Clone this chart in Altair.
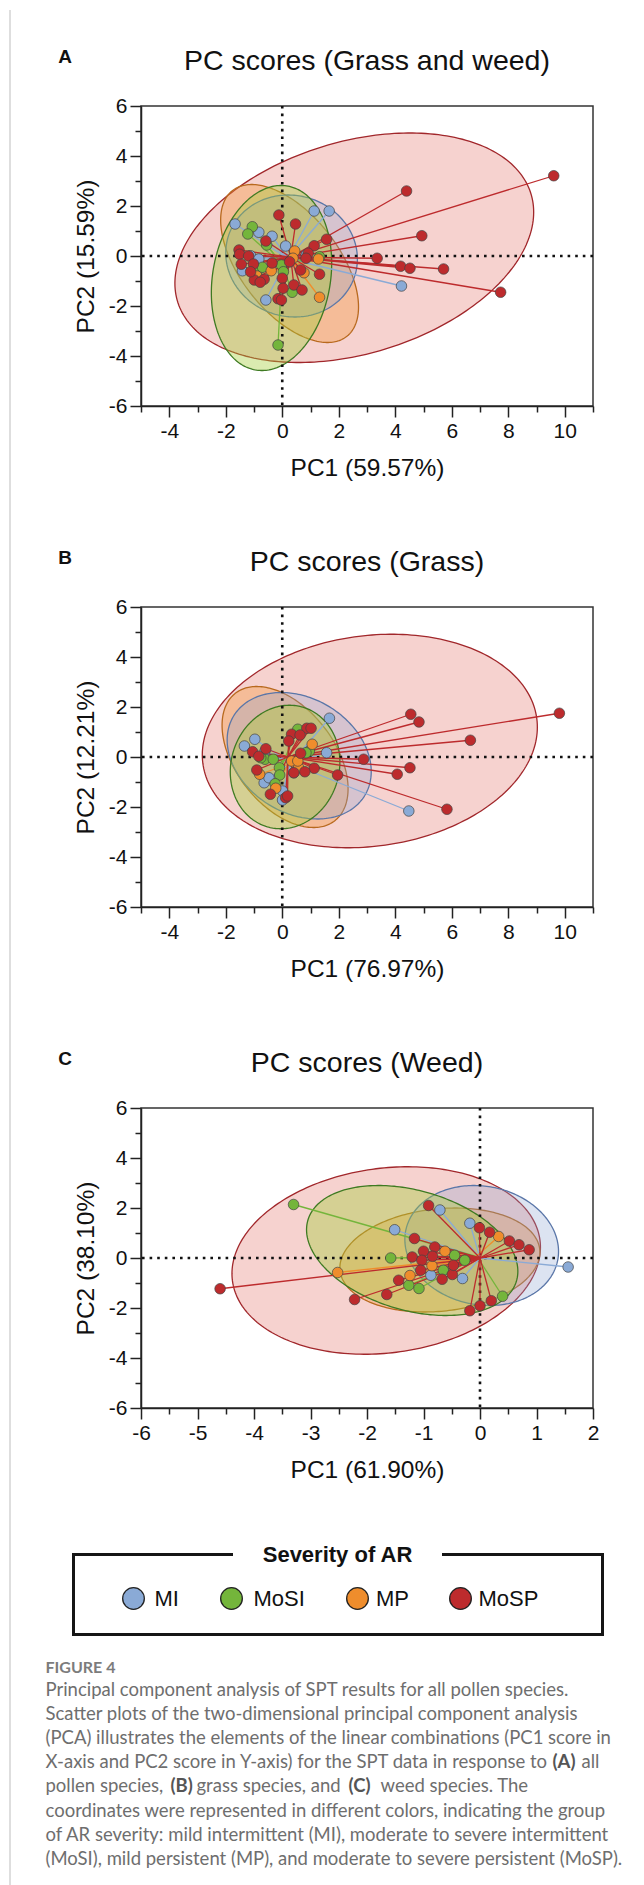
import altair as alt
import numpy as np
import pandas as pd

FONT = "Liberation Sans"
CAP_FONT = "Lato"

GROUPS = ["MI", "MoSI", "MP", "MoSP"]
POINT_COLORS = ["#9db8dd", "#8ec63f", "#f39431", "#de4b3f"]
SPOKE_COLORS = ["#8aaad6", "#74b53b", "#ef8d2c", "#bd2b2d"]
ELL_FILL = {"MI": "#8aa3d0", "MoSI": "#a5cc3a", "MP": "#f39431", "MoSP": "#dd4a3f"}
ELL_OPACITY = {"MI": 0.30, "MoSI": 0.40, "MP": 0.35, "MoSP": 0.25}
ELL_STROKE = {"MI": "#5a76a8", "MoSI": "#3e7a22", "MP": "#b8691e", "MoSP": "#a1272b"}
ELL_ORDER = ["MoSP", "MP", "MI", "MoSI"]

# ---------------- Panel A: Grass and weed ----------------
A_MI_x = [-1.67, -0.83, -0.36, 0.12, 1.13, 1.66, -1.12, -0.83, -1.41, -0.58, 4.22, 0.26, 0.85]
A_MI_y = [1.28, 0.95, 0.79, 0.40, 1.80, 1.80, 0.01, -0.12, -0.59, -1.76, -1.20, -0.23, 0.05]
A_MoSI_x = [-1.06, -1.22, -0.55, -0.03, -0.83, -0.15, 0.35, 1.32, 0.04, -0.70]
A_MoSI_y = [1.17, 0.88, 0.44, -0.36, -0.53, -3.56, -1.45, -0.03, -0.63, -0.45]
A_MP_x = [0.44, 0.38, 1.28, -0.39, 0.77, 1.32, -0.90]
A_MP_y = [0.20, -0.09, -0.12, -0.59, -0.67, -1.65, -0.80]
A_MoSP_x = [9.61, 4.40, 4.94, 3.36, 4.19, 4.52, 5.71, 7.73, -0.12, 0.47, 1.57, 1.13, 0.92, 0.84,
            -0.58, -1.53, -1.51, -1.19, -1.45, -1.02, -0.36, 0.65, 1.32, 0.00, -0.64, -0.99,
            -0.78, 0.03, 0.41, 0.70, -0.15, -0.03, -1.12, 0.26]
A_MoSP_y = [3.21, 2.60, 0.81, -0.09, -0.41, -0.49, -0.52, -1.45, 1.64, 1.28, 0.67, 0.41, 0.11, -0.09,
            0.60, 0.24, 0.07, 0.00, -0.33, -0.32, -0.28, -0.56, -0.73, -0.89, -0.93, -0.96,
            -1.05, -1.29, -1.16, -1.36, -1.71, -1.76, -0.63, -0.23]
A_CENT = {"MI": (0.20, -0.10), "MoSI": (0.00, -0.35), "MP": (0.45, -0.35), "MoSP": (0.30, -0.05)}
# ellipse: centre x, centre y, half width, half height, tilt coefficient
A_ELL = {"MI": (0.33, 0.00, 2.33, 2.44, -0.05), "MoSI": (-0.38, -0.88, 2.13, 3.70, 0.16),
         "MP": (0.26, -0.30, 2.44, 3.16, -0.55), "MoSP": (2.55, 0.33, 6.35, 4.59, 0.31)}

# ---------------- Panel B: Grass ----------------
B_MI_x = [1.67, -1.34, -0.97, 1.57, 4.48, -0.64, -0.47, 0.01, 0.01, 0.41, -0.61]
B_MI_y = [1.55, 0.44, 0.71, 0.17, -2.16, -1.03, -0.83, -1.36, -1.72, -0.63, 0.24]
B_MoSI_x = [0.55, 0.96, 0.84, -0.61, -0.32, -0.10, -0.09, -0.25, -0.76]
B_MoSI_y = [1.11, 0.24, 0.17, -0.09, -0.09, -0.43, -0.72, -1.07, -0.03]
B_MP_x = [1.06, 0.33, 0.58, -0.80, -0.23, 0.55]
B_MP_y = [0.51, -0.16, -0.43, -0.69, -1.25, -0.16]
B_MoSP_x = [9.81, 4.55, 4.84, 6.66, 2.88, 4.52, 4.07, 1.96, 5.83, 0.87, 1.02, 0.33, 0.63, 0.23,
            -0.58, -1.05, -0.83, -0.90, 0.65, 1.13, 0.80, 0.41, -0.42, 0.12, 0.19]
B_MoSP_y = [1.75, 1.71, 1.40, 0.67, -0.09, -0.43, -0.69, -0.72, -2.09, 1.15, 1.15, 0.91, 0.88, 0.64,
            0.33, 0.21, 0.03, -0.52, 0.15, -0.45, -0.59, -0.63, -1.49, -1.63, -1.56]
B_CENT = {"MI": (0.30, -0.25), "MoSI": (0.05, -0.15), "MP": (0.20, -0.30), "MoSP": (0.20, 0.00)}
B_ELL = {"MI": (0.60, 0.05, 2.55, 2.53, -0.25), "MoSI": (0.10, -0.40, 1.94, 2.47, 0.08),
         "MP": (0.10, 0.00, 2.23, 2.82, -0.45), "MoSP": (3.10, 0.64, 5.93, 4.27, 0.13)}

# ---------------- Panel C: Weed ----------------
C_MI_x = [-0.71, -1.51, -0.18, 1.56, -0.87, -0.31]
C_MI_y = [1.92, 1.13, 1.39, -0.36, -0.69, -0.82]
C_MoSI_x = [-3.30, -1.58, -0.45, -0.27, -0.65, -1.26, -1.08, 0.40]
C_MoSI_y = [2.14, 0.00, 0.11, -0.09, -0.49, -1.09, -1.22, -1.53]
C_MP_x = [-2.52, -0.62, 0.33, -1.24, -0.85]
C_MP_y = [-0.58, 0.27, 0.86, -0.70, -0.31]
C_MoSP_x = [-4.60, -2.22, -1.65, -1.44, -1.16, -0.91, -1.20, -1.00, -0.80, -1.03, -1.05, -0.84,
            -0.67, -0.49, -0.47, -0.01, 0.17, 0.52, 0.69, 0.87, -0.18, 0.00, 0.20]
C_MoSP_y = [-1.23, -1.66, -1.46, -0.89, 0.78, 2.10, 0.04, 0.27, 0.44, -0.09, -0.49, 0.07,
            -0.85, -0.66, -0.29, 1.21, 1.03, 0.68, 0.53, 0.33, -2.11, -1.91, -1.71]
C_CENT = {"MI": (0.00, 0.00), "MoSI": (-0.05, 0.05), "MP": (-0.10, 0.00), "MoSP": (0.00, 0.00)}
C_ELL = {"MI": (0.03, 0.50, 1.36, 2.40, -0.10), "MoSI": (-1.20, 0.30, 1.87, 2.60, -0.32),
         "MP": (-0.71, -0.08, 1.77, 2.08, 0.15), "MoSP": (-1.66, -0.10, 2.73, 3.75, 0.14)}

Y_TICKS = [-6, -5, -4, -3, -2, -1, 0, 1, 2, 3, 4, 5, 6]
X_TICKS_AB = [-5, -4, -3, -2, -1, 0, 1, 2, 3, 4, 5, 6, 7, 8, 9, 10, 11]
X_TICKS_C = [-6, -5.5, -5, -4.5, -4, -3.5, -3, -2.5, -2, -1.5, -1, -0.5, 0, 0.5, 1, 1.5, 2]

LEGEND_TITLE = "Severity of AR"
CAPTION_HEAD = "FIGURE 4"
CAPTION = [
    [("Principal component analysis of SPT results for all pollen species.", False)],
    [("Scatter plots of the two-dimensional principal component analysis", False)],
    [("(PCA) illustrates the elements of the linear combinations (PC1 score in", False)],
    [("X-axis and PC2 score in Y-axis) for the SPT data in response to", False), ("(A)", True), ("all", False)],
    [("pollen species,", False), ("(B)", True), ("grass species, and", False), ("(C)", True), ("weed species. The", False)],
    [("coordinates were represented in different colors, indicating the group", False)],
    [("of AR severity: mild intermittent (MI), moderate to severe intermittent", False)],
    [("(MoSI), mild persistent (MP), and moderate to severe persistent (MoSP).", False)],
]

# ---------------- layout (pixels) ----------------
PW, PH = 452, 300
GAP = 201
LINE_X = -131
TOP_EXTRA = 96
PAGE_X0 = 139.5
PAGE_Y0 = 8 + TOP_EXTRA + 0.5
LEG_Y0 = PAGE_Y0 + 3 * (PH + GAP)

point_scale = alt.Scale(domain=GROUPS, range=POINT_COLORS)
spoke_scale = alt.Scale(domain=GROUPS, range=SPOKE_COLORS)


def make_axis(vals, major, title, pad, is_x):
    test = f"abs(datum.value % {major}) < 0.001"
    return alt.Axis(values=vals, title=title, grid=False,
                    labelExpr=f"{test} ? ('' + datum.value) : ''",
                    tickSize={"condition": {"test": test, "value": 11}, "value": 6},
                    tickColor="#222", tickWidth=1.5, domainColor="#222", domainWidth=1.5,
                    labelFont=FONT, labelFontSize=21, labelColor="#111", labelPadding=3,
                    labelOverlap=False, labelFlush=False,
                    titleFont=FONT, titleFontSize=24.5, titleFontWeight="normal",
                    titleColor="#111", titlePadding=pad)


def ellipse_df(params):
    rows = []
    for g, (cx, cy, hx, hy, c) in params.items():
        s = np.sqrt(1 - c * c)
        for t in np.linspace(0, np.pi, 120):
            rows.append({"g": g, "x": cx + hx * np.cos(t),
                         "ylo": cy + hy * (c * np.cos(t) - s * np.sin(t)),
                         "yhi": cy + hy * (c * np.cos(t) + s * np.sin(t))})
    return pd.DataFrame(rows)


def build_panel(letter, title, xtitle, ytitle, xdom, xticks, xmajor, pts, cent, ell, line_y1):
    xs = alt.Scale(domain=xdom, nice=False, zero=False)
    ys = alt.Scale(domain=[-6, 6], nice=False, zero=False)
    xa = make_axis(xticks, xmajor, xtitle, 15, True)
    ya = make_axis(Y_TICKS, 2, ytitle, 10, False)

    rows = []
    for g in GROUPS:
        xsv, ysv = pts[g]
        for xv, yv in zip(xsv, ysv):
            rows.append({"g": g, "x": xv, "y": yv, "cx": cent[g][0], "cy": cent[g][1]})
    df = pd.DataFrame(rows)
    edf = ellipse_df(ell)

    layers = []
    for g in ELL_ORDER:
        layers.append(
            alt.Chart(edf).transform_filter(alt.datum.g == g).mark_area(
                fill=ELL_FILL[g], fillOpacity=ELL_OPACITY[g], stroke=ELL_STROKE[g],
                strokeWidth=1.3, clip=True
            ).encode(x=alt.X("x:Q", scale=xs, axis=xa),
                     y=alt.Y("ylo:Q", scale=ys, axis=ya),
                     y2="yhi:Q")
        )
    zero = pd.DataFrame({"x": [0.0], "y": [0.0]})
    layers.append(alt.Chart(zero).mark_rule(color="#111", strokeWidth=2.6, strokeDash=[2.6, 5])
                  .encode(x=alt.X("x:Q", scale=xs, axis=xa)))
    layers.append(alt.Chart(zero).mark_rule(color="#111", strokeWidth=2.6, strokeDash=[2.6, 5])
                  .encode(y=alt.Y("y:Q", scale=ys, axis=ya)))
    layers.append(alt.Chart(df).mark_rule(strokeWidth=1.3).encode(
        x=alt.X("cx:Q", scale=xs, axis=xa), y=alt.Y("cy:Q", scale=ys, axis=ya),
        x2="x:Q", y2="y:Q", color=alt.Color("g:N", scale=spoke_scale, legend=None)))
    layers.append(alt.Chart(df).mark_circle(size=112, opacity=1, stroke="#444444", strokeWidth=0.7).encode(
        x=alt.X("x:Q", scale=xs, axis=xa), y=alt.Y("y:Q", scale=ys, axis=ya),
        color=alt.Color("g:N", scale=point_scale, legend=None)))
    lab = pd.DataFrame({"t": [title], "l": [letter]})
    layers.append(alt.Chart(lab).mark_text(font=FONT, fontSize=28.5, color="#111", align="center",
                                           baseline="middle").encode(
        text="t:N", x=alt.value(PW / 2), y=alt.value(-45)))
    layers.append(alt.Chart(lab).mark_text(font=FONT, fontSize=19, fontWeight="bold", color="#111",
                                           align="center", baseline="middle").encode(
        text="l:N", x=alt.value(-76), y=alt.value(-49)))
    layers.append(alt.Chart(lab).mark_rule(color="#bdbdbd", strokeWidth=1).encode(
        x=alt.value(LINE_X), y=alt.value(line_y1), y2=alt.value(PH + GAP)))
    return alt.layer(*layers).properties(
        width=PW, height=PH, view=alt.ViewBackground(stroke="#333", strokeWidth=1.5))


pA = build_panel("A", "PC scores (Grass and weed)", "PC1 (59.57%)", "PC2 (15.59%)", [-5, 11], X_TICKS_AB, 2,
                 {"MI": (A_MI_x, A_MI_y), "MoSI": (A_MoSI_x, A_MoSI_y), "MP": (A_MP_x, A_MP_y),
                  "MoSP": (A_MoSP_x, A_MoSP_y)}, A_CENT, A_ELL, -TOP_EXTRA)
pB = build_panel("B", "PC scores (Grass)", "PC1 (76.97%)", "PC2 (12.21%)", [-5, 11], X_TICKS_AB, 2,
                 {"MI": (B_MI_x, B_MI_y), "MoSI": (B_MoSI_x, B_MoSI_y), "MP": (B_MP_x, B_MP_y),
                  "MoSP": (B_MoSP_x, B_MoSP_y)}, B_CENT, B_ELL, 0)
pC = build_panel("C", "PC scores (Weed)", "PC1 (61.90%)", "PC2 (38.10%)", [-6, 2], X_TICKS_C, 1,
                 {"MI": (C_MI_x, C_MI_y), "MoSI": (C_MoSI_x, C_MoSI_y), "MP": (C_MP_x, C_MP_y),
                  "MoSP": (C_MoSP_x, C_MoSP_y)}, C_CENT, C_ELL, 0)

# ---------------- legend + caption ----------------
def rx(px):
    return px - PAGE_X0


def ry(py):
    return py - LEG_Y0


BOX_L, BOX_R, BOX_T, BOX_B = 72, 601, 1553, 1633
GAP_L, GAP_R = 230, 442
box = pd.DataFrame({
    "x1": [rx(BOX_L), rx(BOX_R), rx(BOX_L), rx(BOX_L), rx(GAP_R)],
    "x2": [rx(BOX_L), rx(BOX_R), rx(BOX_R), rx(GAP_L), rx(BOX_R)],
    "y1": [ry(BOX_T), ry(BOX_T), ry(BOX_B), ry(BOX_T), ry(BOX_T)],
    "y2": [ry(BOX_B), ry(BOX_B), ry(BOX_B), ry(BOX_T), ry(BOX_T)],
})
LEG_SYM_X = [132, 230, 356, 459]
LEG_TXT_X = [153, 252, 374.5, 477]
LEG_Y = 1597
leg = pd.DataFrame({"g": GROUPS, "sx": [rx(v) for v in LEG_SYM_X], "tx": [rx(v) for v in LEG_TXT_X],
                    "y": [ry(LEG_Y)] * 4})

CAP_X_SEG = [[44], [44], [44], [44, 551, 580], [44, 169, 195, 347, 379], [44], [44], [44]]
CAP_Y = [1688.3, 1712.4, 1736.6, 1760.7, 1784.9, 1809.0, 1833.2, 1857.3]
cap_rows = []
for line, xs_, yv in zip(CAPTION, CAP_X_SEG, CAP_Y):
    for (txt, bold), xv in zip(line, xs_):
        cap_rows.append({"t": txt, "b": "bold" if bold else "normal", "x": rx(xv), "y": ry(yv)})
cap = pd.DataFrame(cap_rows)

leg_layers = [
    alt.Chart(box).mark_rule(color="#151515", strokeWidth=3, strokeCap="square").encode(
        x=alt.X("x1:Q", scale=None), x2="x2:Q", y=alt.Y("y1:Q", scale=None), y2="y2:Q"),
    alt.Chart(pd.DataFrame({"t": [LEGEND_TITLE]})).mark_text(
        font=FONT, fontSize=22, fontWeight="bold", color="#111", align="center", baseline="middle").encode(
        text="t:N", x=alt.value(rx(336)), y=alt.value(ry(BOX_T))),
    alt.Chart(leg).mark_circle(size=470, opacity=1, stroke="#222", strokeWidth=1.3).encode(
        x=alt.X("sx:Q", scale=None), y=alt.Y("y:Q", scale=None),
        color=alt.Color("g:N", scale=point_scale, legend=None)),
    alt.Chart(leg).mark_text(font=FONT, fontSize=22, color="#111", align="left", baseline="middle").encode(
        x=alt.X("tx:Q", scale=None), y=alt.Y("y:Q", scale=None), text="g:N"),
    alt.Chart(pd.DataFrame({"t": [CAPTION_HEAD]})).mark_text(
        font=CAP_FONT, fontSize=16, fontWeight="bold", color="#7c7c7c", align="left", baseline="middle").encode(
        text="t:N", x=alt.value(rx(44)), y=alt.value(ry(1666))),
    alt.Chart(cap).transform_filter(alt.datum.b == "normal").mark_text(
        font=CAP_FONT, fontSize=18.5, color="#6e6e6e", align="left", baseline="middle").encode(
        x=alt.X("x:Q", scale=None), y=alt.Y("y:Q", scale=None), text="t:N"),
    alt.Chart(cap).transform_filter(alt.datum.b == "bold").mark_text(
        font=CAP_FONT, fontSize=18.5, fontWeight="bold", color="#555555", align="left", baseline="middle").encode(
        x=alt.X("x:Q", scale=None), y=alt.Y("y:Q", scale=None), text="t:N"),
    alt.Chart(pd.DataFrame({"a": [0]})).mark_rule(color="#bdbdbd", strokeWidth=1).encode(
        x=alt.value(LINE_X), y=alt.value(0), y2=alt.value(ry(1885))),
]
legend_chart = alt.layer(*leg_layers).properties(
    width=PW, height=PH, view=alt.ViewBackground(stroke="transparent"))

chart = alt.vconcat(pA, pB, pC, legend_chart, spacing=GAP, bounds="flush").properties(
    padding={"left": 0, "top": 0, "right": 5, "bottom": 0}
).configure(background="white")

chart.save("out.html", embed_options={"renderer": "svg", "actions": False})
